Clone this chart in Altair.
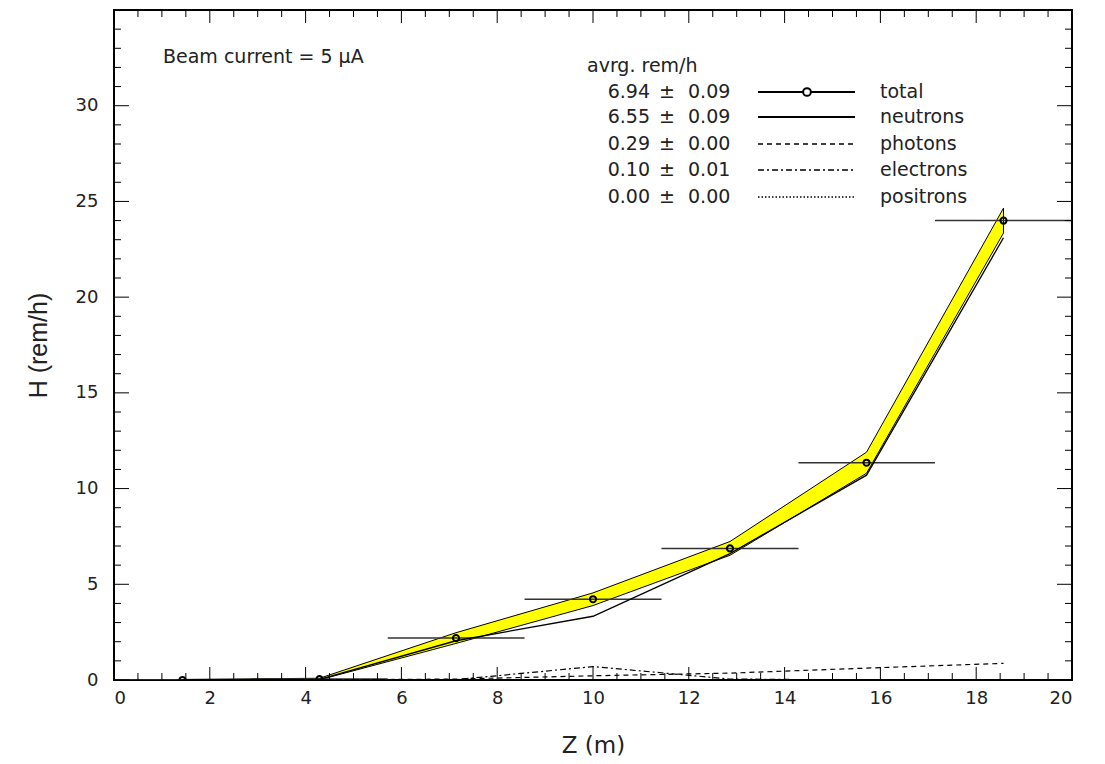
import altair as alt
import pandas as pd

# ---------------- data ----------------
z_center = [1.43, 4.29, 7.14, 10.0, 12.86, 15.71, 18.57]
z_lo = [0.0, 2.857, 5.714, 8.571, 11.43, 14.29, 17.14]
z_hi = [2.857, 5.714, 8.571, 11.43, 14.29, 17.14, 20.0]
total = [0.0, 0.05, 2.19, 4.22, 6.875, 11.35, 24.0]
total_err = [0.03, 0.04, 0.28, 0.33, 0.36, 0.55, 0.65]
neutrons = [0.0, 0.03, 2.05, 3.33, 6.6, 10.7, 23.1]
photons = [0.0, 0.0, 0.05, 0.22, 0.36, 0.62, 0.87]
electrons = [0.0, 0.0, 0.02, 0.70, 0.05, 0.0, 0.0]
positrons = [0.0, 0.0, 0.0, 0.01, 0.0, 0.0, 0.0]

legend_labels = ["total", "neutrons", "photons", "electrons", "positrons"]
legend_avg = ["6.94", "6.55", "0.29", "0.10", "0.00"]
legend_err = ["0.09", "0.09", "0.00", "0.01", "0.00"]

x_major = list(range(0, 21, 2))
x_minor = [i * 0.5 for i in range(0, 41) if (i * 0.5) % 2 != 0]
y_major = list(range(0, 36, 5))
y_minor = [i for i in range(0, 36) if i % 5 != 0]

# ---------------- layout ----------------
W, H = 958, 670
FONT = "DejaVu Sans"
MAJ, MIN = 13, 7

df = pd.DataFrame({
    "z": z_center, "lo": z_lo, "hi": z_hi, "total": total,
    "tlo": [t - e for t, e in zip(total, total_err)],
    "thi": [t + e for t, e in zip(total, total_err)],
    "neutrons": neutrons, "photons": photons,
    "electrons": electrons, "positrons": positrons,
})

xs = alt.Scale(domain=[0, 20], nice=False, zero=False)
ys = alt.Scale(domain=[0, 35], nice=False, zero=False)

X = alt.X("z:Q", scale=xs, title="Z (m)",
          axis=alt.Axis(values=x_major, ticks=False, domain=False, grid=False,
                        labelFont=FONT, labelFontSize=18, labelPadding=9,
                        labelColor="#222", titleFont=FONT, titleFontSize=23,
                        titleFontWeight="normal", titlePadding=27, titleColor="#222"))
Y_AX = alt.Axis(values=y_major[:-1], ticks=False, domain=False, grid=False,
                labelFont=FONT, labelFontSize=18, labelPadding=16,
                labelColor="#222", titleFont="Liberation Sans", titleFontSize=25,
                titleFontWeight="normal", titlePadding=24, titleColor="#222")

base = alt.Chart(df)

band = base.mark_area(color="#FFFF00", stroke="black", strokeWidth=1, clip=True).encode(
    x=X, y=alt.Y("tlo:Q", scale=ys, title="H (rem/h)", axis=Y_AX), y2="thi:Q")

hbars = base.mark_rule(color="#333", strokeWidth=1.5, clip=True).encode(
    x="lo:Q", x2="hi:Q", y="total:Q")

def series(field, dash, width=1.2):
    kw = dict(color="black", strokeWidth=width, clip=True)
    if dash:
        kw["strokeDash"] = dash
    return base.mark_line(**kw).encode(x="z:Q", y=alt.Y(f"{field}:Q"))

neu = series("neutrons", None, 1.3)
pho = series("photons", [5, 4], 1.2)
ele = series("electrons", [6, 3, 2, 3], 1.2)
pos = series("positrons", [1.5, 2], 1.2)

pts = base.mark_point(shape="circle", filled=False, color="black", size=38,
                      strokeWidth=2, opacity=1, clip=True).encode(x="z:Q", y="total:Q")

# ---------------- inward ticks ----------------
def tick_layers():
    out = []
    for vals, ln in ((x_major, MAJ), (x_minor, MIN)):
        d = alt.Chart(pd.DataFrame({"v": vals}))
        out.append(d.mark_rule(color="black", strokeWidth=1).encode(
            x=alt.X("v:Q"), y=alt.value(H), y2=alt.value(H - ln)))
        out.append(d.mark_rule(color="black", strokeWidth=1).encode(
            x=alt.X("v:Q"), y=alt.value(0), y2=alt.value(ln)))
    for vals, ln in ((y_major, MAJ + 2), (y_minor, MIN)):
        d = alt.Chart(pd.DataFrame({"v": vals}))
        out.append(d.mark_rule(color="black", strokeWidth=1).encode(
            y=alt.Y("v:Q"), x=alt.value(0), x2=alt.value(ln)))
        out.append(d.mark_rule(color="black", strokeWidth=1).encode(
            y=alt.Y("v:Q"), x=alt.value(W), x2=alt.value(W - ln)))
    return out

# ---------------- annotations / legend ----------------
one = pd.DataFrame({"a": [0]})
ann = []

def txt(s, x, y, align="left", size=19):
    return alt.Chart(one).mark_text(text=s, align=align, baseline="middle",
                                    font=FONT, fontSize=size, color="#222").encode(
        x=alt.value(x), y=alt.value(y))

ann.append(txt("Beam current = 5 \u00b5A", 49, 47))
ann.append(txt("avrg. rem/h", 473, 56))
row_y = [82, 107, 134, 160, 187]
dashes = [None, None, [5, 4], [6, 3, 2, 3], [1.5, 2]]
for i, lab in enumerate(legend_labels):
    yy = row_y[i]
    ann.append(txt(legend_avg[i], 536, yy, align="right"))
    ann.append(txt("\u00b1", 553, yy, align="center"))
    ann.append(txt(legend_err[i], 574, yy))
    ann.append(txt(lab, 766, yy))
    kw = dict(color="black", strokeWidth=2 if i < 2 else 1.5)
    if dashes[i]:
        kw["strokeDash"] = dashes[i]
    ann.append(alt.Chart(one).mark_rule(**kw).encode(
        x=alt.value(644), x2=alt.value(741), y=alt.value(yy)))
    if i == 0:
        ann.append(alt.Chart(one).mark_point(shape="circle", filled=True, fill="white",
                                             stroke="black", strokeWidth=2, size=60,
                                             opacity=1).encode(
            x=alt.value(693), y=alt.value(yy)))

chart = alt.layer(band, hbars, neu, pho, ele, pos, pts, *tick_layers(), *ann).properties(
    width=W, height=H,
    autosize=alt.AutoSizeParams(type="none"),
    padding={"left": 114, "top": 10, "right": 33, "bottom": 84},
).configure_view(stroke="black", strokeWidth=2)

chart.save("out.html", embed_options={"renderer": "svg", "actions": False})
